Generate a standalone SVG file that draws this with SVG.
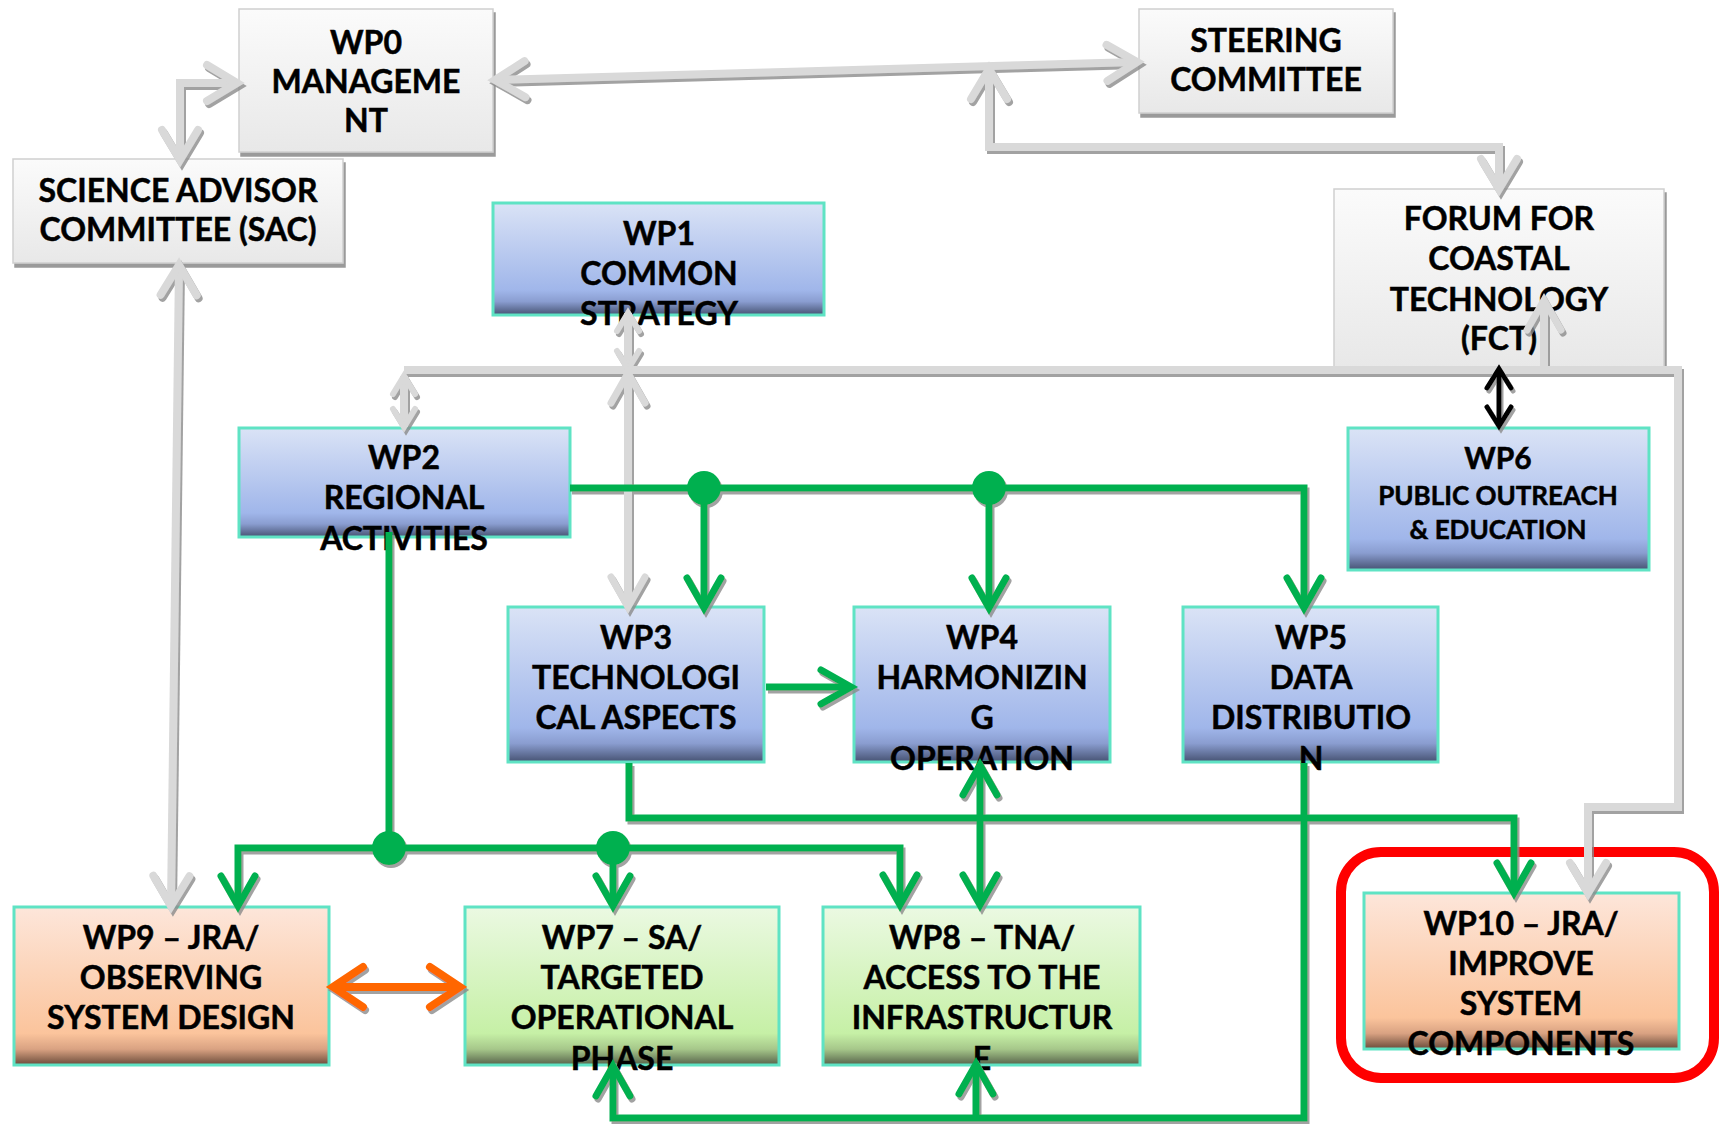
<svg xmlns="http://www.w3.org/2000/svg" width="1719" height="1124" viewBox="0 0 1719 1124">
<defs>
<style>
.t{font-family:Lato,"Open Sans","Liberation Sans",sans-serif;font-weight:700;font-size:32px;fill:#000;stroke:#000;stroke-width:0.5;text-anchor:middle}
.s{font-size:26px}
.s30{font-size:30px}
.gray{fill:url(#gGray);stroke:#cfcfcf;stroke-width:1.5;filter:url(#boxsh)}
.blue{fill:url(#gBlue);stroke:#5fe3c4;stroke-width:3}
.green{fill:url(#gGreen);stroke:#5fe3c4;stroke-width:3}
.orange{fill:url(#gOrange);stroke:#5fe3c4;stroke-width:3}
.cg{fill:none;stroke:#d9d9d9;stroke-width:8}
.cgr{fill:none;stroke:#00b050;stroke-width:7}
.cb{fill:none;stroke:#000;stroke-width:5}
.co{fill:none;stroke:#ff6600;stroke-width:8}
</style>
<linearGradient id="gGray" x1="0" y1="0" x2="0" y2="1">
<stop offset="0" stop-color="#fbfbfb"/><stop offset="1" stop-color="#e8e8e8"/>
</linearGradient>
<linearGradient id="gBlue" x1="0" y1="0" x2="0" y2="1">
<stop offset="0" stop-color="#dae3f6"/><stop offset="0.78" stop-color="#a0b6ea"/><stop offset="0.88" stop-color="#8a9dd0"/><stop offset="1" stop-color="#465272"/>
</linearGradient>
<linearGradient id="gGreen" x1="0" y1="0" x2="0" y2="1">
<stop offset="0" stop-color="#ebf9e2"/><stop offset="0.8" stop-color="#c6f0a6"/><stop offset="0.9" stop-color="#a6c78a"/><stop offset="1" stop-color="#56624a"/>
</linearGradient>
<linearGradient id="gOrange" x1="0" y1="0" x2="0" y2="1">
<stop offset="0" stop-color="#fde6da"/><stop offset="0.8" stop-color="#fbc49c"/><stop offset="0.9" stop-color="#d9a282"/><stop offset="1" stop-color="#6a4a3a"/>
</linearGradient>
<filter id="boxsh" x="-5%" y="-5%" width="115%" height="115%">
<feDropShadow dx="2" dy="4" stdDeviation="0.3" flood-color="#9a9a9a" flood-opacity="1"/>
</filter>
<filter id="lsh" x="-5%" y="-5%" width="110%" height="110%">
<feDropShadow dx="2" dy="3" stdDeviation="0.6" flood-color="#8a8a8a" flood-opacity="0.8"/>
</filter>
<marker id="mg" markerUnits="userSpaceOnUse" viewBox="-40 -26 52 52" refX="0" refY="0" markerWidth="52" markerHeight="52" orient="auto-start-reverse">
<path d="M-30,-18 L0,0 L-30,18" fill="none" stroke="#d9d9d9" stroke-width="8" stroke-linecap="round"/>
</marker>
<marker id="mgm" markerUnits="userSpaceOnUse" viewBox="-40 -26 52 52" refX="0" refY="0" markerWidth="52" markerHeight="52" orient="auto-start-reverse">
<path d="M-30,-17 L0,0 L-30,17" fill="none" stroke="#d9d9d9" stroke-width="7" stroke-linecap="round"/>
</marker>
<marker id="mgs" markerUnits="userSpaceOnUse" viewBox="-30 -20 40 40" refX="0" refY="0" markerWidth="40" markerHeight="40" orient="auto-start-reverse">
<path d="M-18,-11 L0,0 L-18,11" fill="none" stroke="#d9d9d9" stroke-width="6" stroke-linecap="round"/>
</marker>
<marker id="mgr" markerUnits="userSpaceOnUse" viewBox="-40 -26 52 52" refX="0" refY="0" markerWidth="52" markerHeight="52" orient="auto-start-reverse">
<path d="M-30,-17 L0,0 L-30,17" fill="none" stroke="#00b050" stroke-width="7" stroke-linecap="round"/>
</marker>
<marker id="mb" markerUnits="userSpaceOnUse" viewBox="-30 -20 40 40" refX="0" refY="0" markerWidth="40" markerHeight="40" orient="auto-start-reverse">
<path d="M-19,-12 L0,0 L-19,12" fill="none" stroke="#000" stroke-width="5" stroke-linecap="round"/>
</marker>
<marker id="mo" markerUnits="userSpaceOnUse" viewBox="-40 -28 52 56" refX="0" refY="0" markerWidth="52" markerHeight="56" orient="auto-start-reverse">
<path d="M-30,-20 L0,0 L-30,20" fill="none" stroke="#ff6600" stroke-width="8" stroke-linecap="round"/>
</marker>
</defs>
<rect width="1719" height="1124" fill="#fff"/>

<g id="wp0"><rect class="gray" x="239" y="9" width="254" height="143"/>
<text class="t" x="366" y="54">WP0</text><text class="t" x="366" y="93">MANAGEME</text><text class="t" x="366" y="132">NT</text></g>
<g id="steering"><rect class="gray" x="1139" y="9" width="254" height="104"/>
<text class="t" x="1266" y="52">STEERING</text><text class="t" x="1266" y="91">COMMITTEE</text></g>
<g id="sac"><rect class="gray" x="13" y="159" width="330" height="104"/>
<text class="t" x="178" y="202">SCIENCE ADVISOR</text><text class="t" x="178" y="241">COMMITTEE (SAC)</text></g>
<g id="fct"><rect class="gray" x="1334" y="189" width="330" height="178"/>
<text class="t" x="1499" y="230">FORUM FOR</text><text class="t" x="1499" y="270">COASTAL</text><text class="t" x="1499" y="311">TECHNOLOGY</text><text class="t" x="1499" y="350">(FCT)</text></g>
<g id="wp1"><rect class="blue" x="493" y="203" width="331" height="112"/>
<text class="t" x="659" y="245">WP1</text><text class="t" x="659" y="285">COMMON</text><text class="t" x="659" y="325">STRATEGY</text></g>
<g id="wp2"><rect class="blue" x="239" y="428" width="331" height="109"/>
<text class="t" x="404" y="469">WP2</text><text class="t" x="404" y="509">REGIONAL</text><text class="t" x="404" y="550">ACTIVITIES</text></g>
<g id="wp6"><rect class="blue" x="1348" y="428" width="301" height="142"/>
<text class="t s30" x="1498" y="469">WP6</text><text class="t s" x="1498" y="505">PUBLIC OUTREACH</text><text class="t s" x="1498" y="539">&amp; EDUCATION</text></g>
<g id="wp3"><rect class="blue" x="508" y="607" width="256" height="155"/>
<text class="t" x="636" y="649">WP3</text><text class="t" x="636" y="689">TECHNOLOGI</text><text class="t" x="636" y="729">CAL ASPECTS</text></g>
<g id="wp4"><rect class="blue" x="854" y="607" width="256" height="155"/>
<text class="t" x="982" y="649">WP4</text><text class="t" x="982" y="689">HARMONIZIN</text><text class="t" x="982" y="729">G</text><text class="t" x="982" y="770">OPERATION</text></g>
<g id="wp5"><rect class="blue" x="1183" y="607" width="255" height="155"/>
<text class="t" x="1311" y="649">WP5</text><text class="t" x="1311" y="689">DATA</text><text class="t" x="1311" y="729">DISTRIBUTIO</text><text class="t" x="1311" y="770">N</text></g>
<g id="wp9"><rect class="orange" x="14" y="907" width="315" height="158"/>
<text class="t" x="171" y="949">WP9 – JRA/</text><text class="t" x="171" y="989">OBSERVING</text><text class="t" x="171" y="1029">SYSTEM DESIGN</text></g>
<g id="wp7"><rect class="green" x="465" y="907" width="314" height="158"/>
<text class="t" x="622" y="949">WP7 – SA/</text><text class="t" x="622" y="989">TARGETED</text><text class="t" x="622" y="1029">OPERATIONAL</text><text class="t" x="622" y="1070">PHASE</text></g>
<g id="wp8"><rect class="green" x="823" y="907" width="317" height="158"/>
<text class="t" x="982" y="949">WP8 – TNA/</text><text class="t" x="982" y="989">ACCESS TO THE</text><text class="t" x="982" y="1029">INFRASTRUCTUR</text><text class="t" x="982" y="1070">E</text></g>
<g id="wp10"><rect class="orange" x="1364" y="893" width="315" height="156"/>
<text class="t" x="1521" y="935">WP10 – JRA/</text><text class="t" x="1521" y="975">IMPROVE</text><text class="t" x="1521" y="1015">SYSTEM</text><text class="t" x="1521" y="1055">COMPONENTS</text></g>

<g id="highlight"><rect x="1341" y="852" width="373" height="226" rx="40" ry="40" fill="none" stroke="#ff0000" stroke-width="10"/></g>

<g id="connectors" filter="url(#lsh)">
<path class="cg" d="M495,80 L1137,62" marker-start="url(#mg)" marker-end="url(#mg)"/>
<path class="cg" d="M237,83 L180,83 L180,160" marker-start="url(#mg)" marker-end="url(#mg)"/>
<path class="cg" d="M179,265 L171,906" marker-start="url(#mg)" marker-end="url(#mg)"/>
<path class="cg" d="M989,69 L989,147 L1499,147 L1499,189" marker-start="url(#mg)" marker-end="url(#mg)"/>
<path class="cg" d="M404,370 L1678,370 L1678,807 L1588,807 L1588,893" marker-end="url(#mg)"/>
<path class="cg" d="M404,376 L404,427" marker-start="url(#mgs)" marker-end="url(#mgs)"/>
<path class="cg" d="M628,313 L628,369" marker-start="url(#mgs)" marker-end="url(#mgs)"/>
<path class="cg" d="M628,373 L628,607" marker-start="url(#mgm)" marker-end="url(#mgm)"/>
<path class="cg" d="M1544,372 L1544,300" marker-end="url(#mgm)"/>
<path class="cb" d="M1499,369 L1499,426" marker-start="url(#mb)" marker-end="url(#mb)"/>
<path class="cgr" d="M570,488 L1304,488 L1304,608" marker-end="url(#mgr)"/>
<path class="cgr" d="M704,488 L704,608" marker-end="url(#mgr)"/>
<path class="cgr" d="M989,488 L989,608" marker-end="url(#mgr)"/>
<path class="cgr" d="M766,687 L851,687" marker-end="url(#mgr)"/>
<path class="cgr" d="M629,763 L629,818 L1514,818 L1514,893" marker-end="url(#mgr)"/>
<path class="cgr" d="M389,532 L389,848"/>
<path class="cgr" d="M389,848 L238,848 L238,906" marker-end="url(#mgr)"/>
<path class="cgr" d="M389,848 L900,848 L900,905" marker-end="url(#mgr)"/>
<path class="cgr" d="M613,848 L613,906" marker-end="url(#mgr)"/>
<path class="cgr" d="M980,765 L980,905" marker-start="url(#mgr)" marker-end="url(#mgr)"/>
<path class="cgr" d="M1304,763 L1304,1118 L613,1118 L613,1066" marker-end="url(#mgr)"/>
<path class="cgr" d="M976,1118 L976,1064" marker-end="url(#mgr)"/>
<path class="co" d="M333,987 L460,987" marker-start="url(#mo)" marker-end="url(#mo)"/>
<circle cx="704" cy="488" r="17" fill="#00b050"/>
<circle cx="989" cy="488" r="17" fill="#00b050"/>
<circle cx="389" cy="848" r="17" fill="#00b050"/>
<circle cx="613" cy="848" r="17" fill="#00b050"/>
</g>
</svg>
